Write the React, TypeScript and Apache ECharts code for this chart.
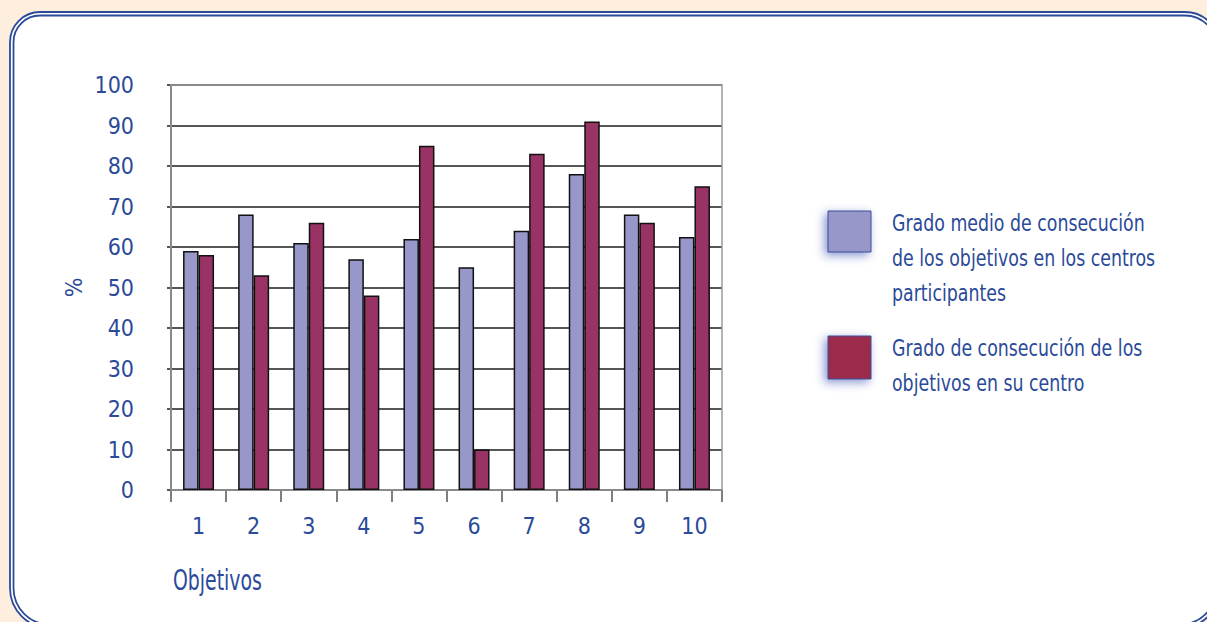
import React, { useEffect, useRef } from "react";
import * as echarts from "echarts";

const categories = ["1", "2", "3", "4", "5", "6", "7", "8", "9", "10"];
const mediaValues = [59, 68, 61, 57, 62, 55, 64, 78, 68, 62.5];
const centroValues = [58, 53, 66, 48, 85, 10, 83, 91, 66, 75];
const seriesNames = [
  "Grado medio de consecución de los objetivos en los centros participantes",
  "Grado de consecución de los objetivos en su centro",
];
const legendLines = [
  "Grado medio de consecución\nde los objetivos en los centros\nparticipantes",
  "Grado de consecución de los\nobjetivos en su centro",
];
const yAxisName = "%";
const xAxisName = "Objetivos";

const FONT = "'Liberation Sans Narrow', 'DejaVu Sans Condensed', sans-serif";
const TEXT = "#2b4a99";
const BLUE = "#9797ca";
const RED = "#993366";

export default function App() {
  const ref = useRef<HTMLDivElement>(null);

  useEffect(() => {
    if (!ref.current) return;
    const chart = echarts.init(ref.current, undefined, { renderer: "svg" });
    chart.setOption({
      animation: false,
      backgroundColor: "#fdeedd",
      textStyle: { fontFamily: FONT },
      grid: {
        left: 171,
        top: 85,
        width: 551,
        height: 405,
        show: true,
        borderColor: "#9a9a9a",
        borderWidth: 1.5,
        backgroundColor: "transparent",
        z: 1,
      },
      xAxis: {
        type: "category",
        data: categories,
        axisLine: { show: true, lineStyle: { color: "#555", width: 2 } },
        axisTick: { show: true, length: 12, lineStyle: { color: "#555", width: 1.5 } },
        axisLabel: { color: TEXT, fontSize: 23, fontFamily: FONT, margin: 24 },
      },
      yAxis: {
        type: "value",
        min: 0,
        max: 100,
        interval: 10,
        name: yAxisName,
        nameLocation: "middle",
        nameRotate: 90,
        nameGap: 86,
        nameTextStyle: { color: TEXT, fontSize: 23, fontFamily: FONT },
        axisLine: { show: true, lineStyle: { color: "#555", width: 2 } },
        axisTick: { show: true, length: 4, lineStyle: { color: "#555", width: 2 } },
        axisLabel: { color: TEXT, fontSize: 23, fontFamily: FONT, margin: 37 },
        splitLine: { show: true, lineStyle: { color: "#555", width: 2 } },
      },
      series: [
        {
          name: seriesNames[0],
          type: "bar",
          data: mediaValues,
          barWidth: 15.5,
          barGap: "0%",
          itemStyle: { color: BLUE, borderColor: "#111", borderWidth: 1.5 },
        },
        {
          name: seriesNames[1],
          type: "bar",
          data: centroValues,
          barWidth: 15.5,
          barGap: "0%",
          itemStyle: { color: RED, borderColor: "#111", borderWidth: 1.5 },
        },
      ],
      graphic: [
        {
          type: "rect",
          z: -10,
          shape: { x: 10, y: 12, width: 1210, height: 616, r: [30, 35, 40, 40] },
          style: { fill: "#ffffff", stroke: TEXT, lineWidth: 1.8 },
        },
        {
          type: "rect",
          z: -9,
          shape: { x: 13.5, y: 15.5, width: 1203, height: 609, r: [26.5, 31.5, 36.5, 36.5] },
          style: { fill: "transparent", stroke: TEXT, lineWidth: 1.8 },
        },
        {
          type: "text",
          x: 173,
          y: 580,
          scaleX: 0.75,
          style: {
            text: xAxisName,
            fill: TEXT,
            fontSize: 28,
            fontFamily: FONT,
            verticalAlign: "middle",
            align: "left",
          },
        },
        {
          type: "rect",
          shape: { x: 828, y: 211, width: 43, height: 41 },
          style: {
            fill: BLUE,
            stroke: "#3b4f9a",
            lineWidth: 1,
            shadowBlur: 10,
            shadowColor: "rgba(40,60,170,0.55)",
            shadowOffsetX: -3,
            shadowOffsetY: 3,
          },
        },
        {
          type: "rect",
          shape: { x: 828, y: 336, width: 43, height: 43 },
          style: {
            fill: "#9b2a4c",
            stroke: "#3b4f9a",
            lineWidth: 1,
            shadowBlur: 10,
            shadowColor: "rgba(40,60,170,0.55)",
            shadowOffsetX: -3,
            shadowOffsetY: 3,
          },
        },
        {
          type: "text",
          x: 892,
          y: 205,
          scaleX: 0.84,
          style: {
            text: legendLines[0],
            fill: TEXT,
            fontSize: 23,
            fontFamily: FONT,
            lineHeight: 35,
            align: "left",
            verticalAlign: "top",
          },
        },
        {
          type: "text",
          x: 892,
          y: 330,
          scaleX: 0.84,
          style: {
            text: legendLines[1],
            fill: TEXT,
            fontSize: 23,
            fontFamily: FONT,
            lineHeight: 35,
            align: "left",
            verticalAlign: "top",
          },
        },
      ],
    });
    return () => chart.dispose();
  }, []);

  return (
    <div
      ref={ref}
      style={{ position: "fixed", left: 0, top: 0, width: 1207, height: 622 }}
    />
  );
}
